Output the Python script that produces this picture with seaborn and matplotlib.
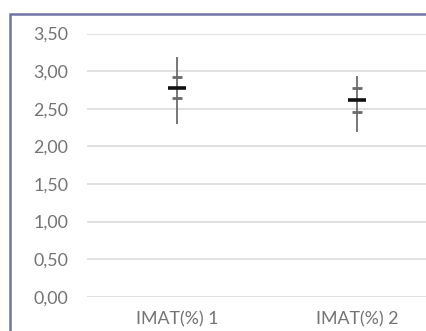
import matplotlib
matplotlib.use("Agg")
import matplotlib.pyplot as plt
import matplotlib.patches as mpatches
from matplotlib.ticker import FuncFormatter
import seaborn as sns
import pandas as pd

# IMAT(%) summary per group: range, spread bounds and mean
categories = ["IMAT(%) 1", "IMAT(%) 2"]
high = [3.19, 2.93]
low = [2.30, 2.19]
upper = [2.92, 2.78]
lower = [2.64, 2.46]
mean = [2.77, 2.62]
y_ticks = [0.0, 0.5, 1.0, 1.5, 2.0, 2.5, 3.0, 3.5]

df = pd.DataFrame({"group": categories, "high": high, "low": low,
                   "upper": upper, "lower": lower, "mean": mean})

sns.set_theme(style="white")
plt.rcParams["font.family"] = ["Lato", "DejaVu Sans"]

W, H = 426, 331
fig = plt.figure(figsize=(W / 100, H / 100), dpi=100)
fig.patch.set_facecolor("white")

# chart-area frame
frame = mpatches.Rectangle((9.5 / W, -0.1), 1.2, (H - 14) / H + 0.1,
                           transform=fig.transFigure, fill=False,
                           edgecolor="#7073a8", linewidth=1.8, zorder=0)
fig.patches.append(frame)

y0, y1 = 296.7, 33.5
ax = fig.add_axes([87 / W, (H - y0) / H, 360 / W, (y0 - y1) / H])
ax.set_facecolor("none")

# range lines
ax.vlines(df["group"], df["low"], df["high"], color="#6c6c6c", linewidth=1.3, zorder=2)
# spread bounds
sns.scatterplot(data=df, x="group", y="upper", marker="_", s=55, color="#6a6a6a",
                linewidth=2.0, ax=ax, zorder=3)
sns.scatterplot(data=df, x="group", y="lower", marker="_", s=55, color="#6a6a6a",
                linewidth=2.0, ax=ax, zorder=3)
# mean
sns.scatterplot(data=df, x="group", y="mean", marker="_", s=165, color="#111111",
                linewidth=2.6, ax=ax, zorder=4)

ax.set_xlim(-0.5, 1.5)
ax.set_ylim(0, 3.5)
ax.set_yticks(y_ticks)
ax.yaxis.set_major_formatter(FuncFormatter(lambda v, _: f"{v:.2f}".replace(".", ",")))
ax.yaxis.grid(True, color="#dedada", linewidth=1.2)
ax.set_axisbelow(True)
for s in ax.spines.values():
    s.set_visible(False)
ax.set_xlabel("")
ax.set_ylabel("")
ax.tick_params(axis="y", length=0, pad=13.5, labelsize=12.8, labelcolor="#737373")
ax.tick_params(axis="x", length=0, pad=10.5, labelsize=12.8, labelcolor="#737373")

fig.savefig("out.png", dpi=100)
